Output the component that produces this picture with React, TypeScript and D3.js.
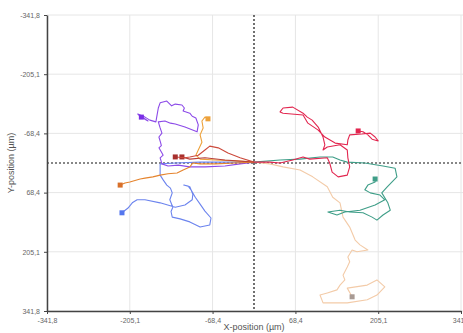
import { useEffect, useRef } from "react";
import * as d3 from "d3";

// axis ticks (µm)
const ticks = [-341.8, -205.1, -68.4, 68.4, 205.1, 341.8];

// cell tracks, [x, y] in µm, all starting at the origin
const purpleTrack = [
  [0, -2], [-23, 2], [-48, 7], [-81, 9], [-106, 9], [-125, 5], [-142, 7], [-152, 2],
  [-155, -12], [-150, -18], [-152, -23], [-157, -35], [-153, -40], [-154, -46],
  [-157, -60], [-152, -69], [-155, -81], [-158, -95], [-147, -97], [-138, -92],
  [-130, -90], [-114, -83], [-94, -72], [-92, -88], [-96, -104], [-102, -108],
  [-106, -115], [-117, -120], [-115, -127], [-119, -134], [-130, -136], [-136, -132],
  [-144, -143], [-155, -139], [-158, -127], [-160, -111], [-162, -95], [-172, -99],
  [-180, -106], [-192, -113], [-175, -97], [-190, -110], [-178, -99], [-186, -106],
];
const blueTrack = [
  [0, -2], [-40, -2], [-89, -2], [-130, 0], [-155, 2], [-155, 28], [-150, 39],
  [-144, 51], [-138, 58], [-135, 69], [-139, 85], [-134, 102], [-137, 112], [-135, 125],
  [-122, 129], [-106, 136], [-89, 148], [-73, 143], [-71, 127], [-81, 111], [-89, 95],
  [-97, 79], [-104, 62], [-109, 53], [-116, 51], [-106, 55], [-101, 72], [-102, 85],
  [-114, 97], [-130, 102], [-155, 92], [-180, 85], [-193, 85], [-201, 92], [-208, 104],
  [-218, 115],
];
const orangeTrack = [
  [0, -2], [-31, 0], [-64, 2], [-89, 2], [-101, 0], [-106, 9], [-117, 16], [-127, 23],
  [-142, 25], [-155, 28], [-167, 32], [-180, 35], [-188, 37], [-205, 44], [-213, 46],
  [-221, 51],
];
const amberTrack = [
  [0, -2], [-31, -5], [-64, -7], [-89, -9], [-96, -18], [-92, -30], [-86, -48],
  [-89, -65], [-84, -81], [-86, -97], [-81, -106], [-76, -102],
];
const redTrack = [
  [0, -2], [-23, -12], [-43, -23], [-59, -35], [-73, -39], [-81, -30], [-92, -18],
  [-106, -14], [-114, -12], [-130, -14],
];
const brownTrack = [[0, -2], [-48, -7], [-81, -12], [-106, -9], [-119, -14]];
const crimsonTrack = [
  [0, -2], [26, -2], [43, 0], [64, -7], [81, -14], [92, -9], [121, -12], [125, 0],
  [129, 21], [139, 32], [154, 28], [158, 9], [155, -12], [154, -30], [142, -42],
  [121, -37], [114, -30], [117, -42], [114, -60], [106, -83], [96, -99], [88, -106],
  [81, -115], [64, -129], [48, -127], [43, -118], [48, -115], [81, -111], [89, -92],
  [106, -76], [117, -60], [134, -46], [154, -42], [155, -53], [158, -65], [178, -67],
  [192, -69], [200, -60], [205, -51], [195, -55], [188, -65], [180, -72], [172, -74],
];
const tealTrack = [
  [0, -2], [43, -7], [76, -9], [109, -14], [130, -14], [142, -7], [154, -2], [183, 0],
  [213, 7], [233, 12], [236, 32], [220, 55], [211, 69], [221, 92], [225, 109],
  [213, 120], [203, 132], [195, 125], [180, 115], [158, 113], [142, 109], [122, 113],
  [137, 120], [150, 113], [175, 109], [200, 97], [216, 85], [208, 74], [192, 69],
  [183, 62], [188, 51], [200, 44], [200, 37],
];
const tanTrack = [
  [0, -2], [26, 2], [48, 9], [76, 16], [97, 32], [121, 55], [130, 79], [142, 92],
  [147, 125], [158, 148], [167, 178], [175, 189], [188, 201], [170, 205], [162, 201],
  [155, 217], [158, 228], [154, 240], [147, 259], [150, 270], [142, 282], [137, 293],
  [121, 300], [109, 305], [114, 323], [154, 323], [187, 316], [203, 305], [216, 286],
  [203, 270], [187, 282], [154, 289], [162, 309],
];

const tracks = [
  { points: tanTrack, color: "#f3cba8", marker: "#a89a94" },
  { points: tealTrack, color: "#3f9e88", marker: "#3f9e88" },
  { points: crimsonTrack, color: "#e2264f", marker: "#e2264f" },
  { points: blueTrack, color: "#6c84ee", marker: "#5577ee" },
  { points: purpleTrack, color: "#8c4ae8", marker: "#7a2ee6" },
  { points: orangeTrack, color: "#e5842e", marker: "#d8702a" },
  { points: amberTrack, color: "#eda13a", marker: "#eda13a" },
  { points: brownTrack, color: "#b8403a", marker: "#a8302e" },
  { points: redTrack, color: "#cc4a3c", marker: "#a8302e" },
];

const fmt = (v: number) => v.toFixed(1).replace(".", ",");

export default function App() {
  const svgRef = useRef<SVGSVGElement>(null);

  useEffect(() => {
    if (!svgRef.current) return;
    const svg = d3.select(svgRef.current);
    svg.selectAll("*").remove();

    const x = d3.scaleLinear().domain([-341.8, 341.8]).range([47, 461]);
    const y = d3.scaleLinear().domain([-341.8, 341.8]).range([15, 311]);

    // grid
    const grid = svg.append("g");
    grid
      .selectAll(".gx")
      .data(ticks)
      .enter()
      .append("line")
      .attr("x1", (d) => x(d))
      .attr("x2", (d) => x(d))
      .attr("y1", y(-341.8))
      .attr("y2", y(341.8))
      .attr("stroke", "#e6e6e6")
      .attr("stroke-width", 1);
    grid
      .selectAll(".gy")
      .data(ticks)
      .enter()
      .append("line")
      .attr("x1", x(-341.8))
      .attr("x2", 463)
      .attr("y1", (d) => y(d))
      .attr("y2", (d) => y(d))
      .attr("stroke", "#e6e6e6")
      .attr("stroke-width", 1);

    // zero lines
    svg
      .append("line")
      .attr("x1", x(-341.8))
      .attr("x2", 463)
      .attr("y1", y(0))
      .attr("y2", y(0))
      .attr("stroke", "#111")
      .attr("stroke-width", 1.2)
      .attr("stroke-dasharray", "2,2");
    svg
      .append("line")
      .attr("x1", x(0))
      .attr("x2", x(0))
      .attr("y1", y(-341.8))
      .attr("y2", y(341.8))
      .attr("stroke", "#111")
      .attr("stroke-width", 1.2)
      .attr("stroke-dasharray", "2,2");

    // tracks
    const line = d3
      .line<number[]>()
      .x((d) => x(d[0]))
      .y((d) => y(d[1]));

    tracks.forEach((t) => {
      svg
        .append("path")
        .attr("d", line(t.points))
        .attr("fill", "none")
        .attr("stroke", t.color)
        .attr("stroke-width", 1.1)
        .attr("stroke-linejoin", "round");
      const end = t.points[t.points.length - 1];
      svg
        .append("rect")
        .attr("x", x(end[0]) - 2.5)
        .attr("y", y(end[1]) - 2.5)
        .attr("width", 5)
        .attr("height", 5)
        .attr("fill", t.marker);
    });

    // axes
    const xAxis = svg
      .append("g")
      .attr("transform", `translate(0,${y(341.8)})`)
      .call(d3.axisBottom(x).tickValues(ticks).tickFormat((d) => fmt(d as number)).tickSize(3).tickSizeOuter(0));
    const yAxis = svg
      .append("g")
      .attr("transform", `translate(${x(-341.8)},0)`)
      .call(d3.axisLeft(y).tickValues(ticks).tickFormat((d) => fmt(d as number)).tickSize(3).tickSizeOuter(0));

    [xAxis, yAxis].forEach((a) => {
      a.select(".domain").attr("stroke", "#444").attr("stroke-width", 1.5);
      a.selectAll(".tick line").attr("stroke", "#444");
      a.selectAll(".tick text")
        .attr("fill", "#666")
        .attr("font-size", 7)
        .attr("font-family", "Liberation Sans, Arial, sans-serif");
    });
    xAxis.selectAll(".tick text").attr("dy", "0.9em");
    yAxis.selectAll(".tick text").attr("dx", "-1px");

    svg
      .append("text")
      .attr("x", x(0))
      .attr("y", 330)
      .attr("text-anchor", "middle")
      .attr("font-size", 9)
      .attr("fill", "#555")
      .attr("font-family", "Liberation Sans, Arial, sans-serif")
      .text("X-position (µm)");
    svg
      .append("text")
      .attr("transform", `translate(14,${y(0)}) rotate(-90)`)
      .attr("text-anchor", "middle")
      .attr("font-size", 9)
      .attr("fill", "#555")
      .attr("font-family", "Liberation Sans, Arial, sans-serif")
      .text("Y-position (µm)");
  }, []);

  return (
    <svg
      ref={svgRef}
      width={463}
      height={333}
      style={{ position: "absolute", left: 0, top: 0, background: "#fff" }}
    />
  );
}
